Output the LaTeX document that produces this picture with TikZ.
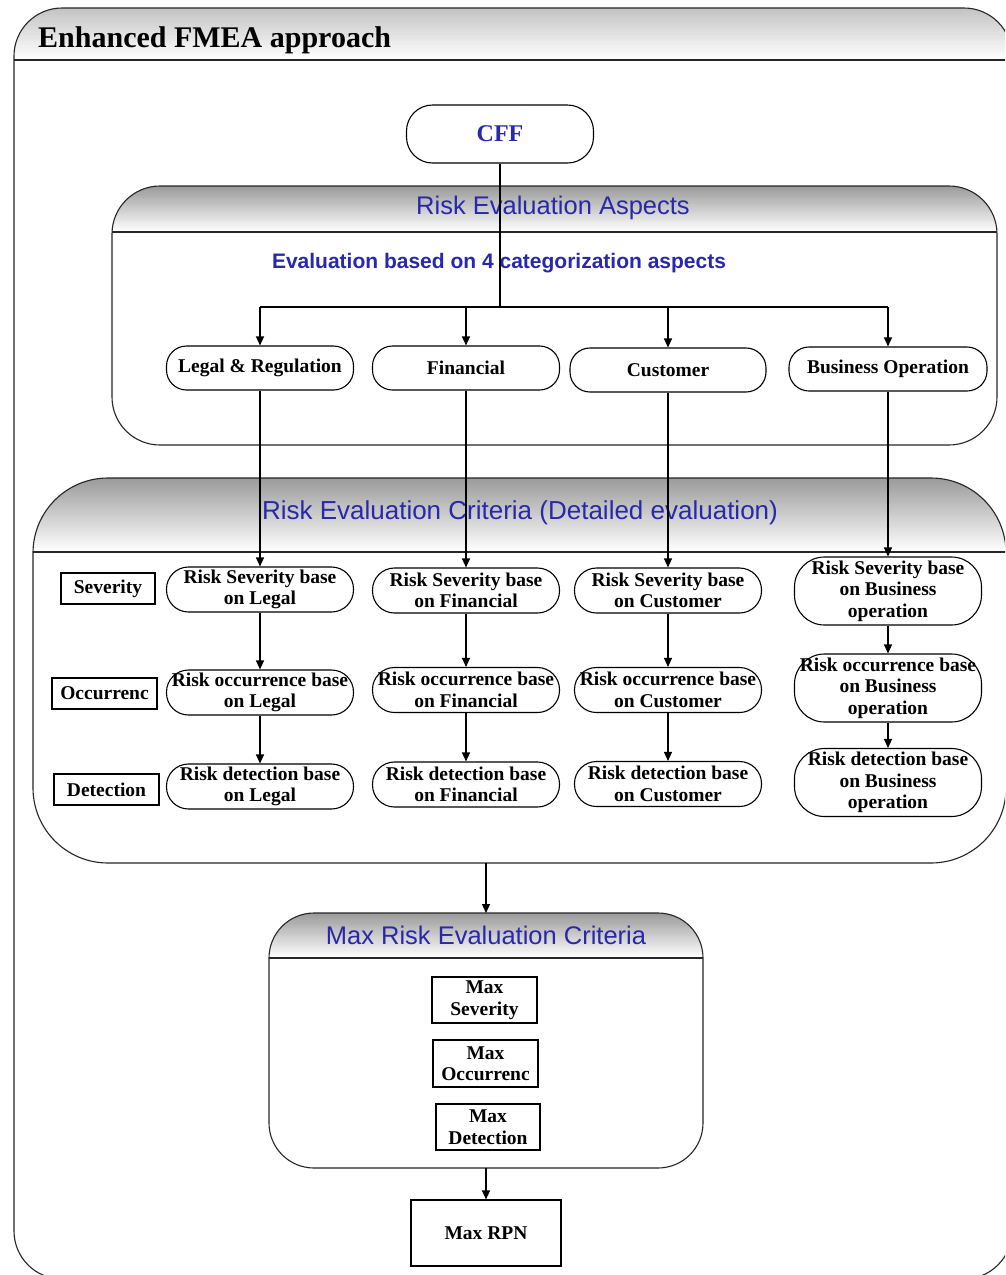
\documentclass[tikz,border=0pt]{standalone}
\usepackage{fontspec}
\setmainfont{Liberation Serif}
\setsansfont{Liberation Sans}
\usetikzlibrary{arrows.meta}
\definecolor{hblue}{RGB}{40,40,170}
\tikzset{
 arr/.style={line width=1.1pt, -{Triangle[length=9pt,width=8pt]}},
 ln/.style={line width=1.1pt},
 boxline/.style={draw=black!85, line width=1.1pt},
 container/.style={inner sep=0pt, outer sep=0pt},
 proc/.style={draw, line width=1.1pt, align=center, font=\bfseries\fontsize{19.5}{21.5}\selectfont, inner sep=0pt},
 lab/.style={draw, line width=1.1pt, align=center, font=\bfseries\fontsize{19.5}{21.5}\selectfont, inner sep=0pt},
 head/.style={font=\sffamily\fontsize{25.5}{28}\selectfont, text=hblue},
 crit/.style={proc, rounded corners=22pt, minimum width=187pt, minimum height=45pt},
 critt/.style={proc, rounded corners=30pt, minimum width=187pt, minimum height=68pt},
 aspn/.style={proc, rounded corners=20pt, minimum height=44pt},
}
% #1 node, #2 header height, #3 corner radius, #4 top grey percentage
\newcommand\myHeaderBox[4]{%
 \begin{scope}
 \clip[rounded corners=#3pt] (#1.south west) rectangle (#1.north east);
 \foreach \i in {0,...,#2} {
   \pgfmathtruncatemacro\g{#4*(1-\i/#2)}
   \pgfmathsetmacro\yb{\i+1.4}
   \fill[black!\g] ([yshift=-\i pt]#1.north west) rectangle ([yshift=-\yb pt]#1.north east);
 }
 \end{scope}
 \draw[boxline, rounded corners=#3pt] (#1.south west) rectangle (#1.north east);
 \draw[boxline] ([yshift=-#2 pt]#1.north west) -- ([yshift=-#2 pt]#1.north east);
}
\begin{document}
\begin{tikzpicture}[x=1pt,y=-1pt]
\useasboundingbox (0,0) rectangle (1005,1275);
\clip (0,0) rectangle (1005,1275);
\fill[white] (0,0) rectangle (1005,1275);

% outer frame
\node[container, minimum width=998pt, minimum height=1271pt] (frame) at (513,643.5) {};
\myHeaderBox{frame}{52}{48}{24}
\node[anchor=base west, font=\bfseries\fontsize{30}{34}\selectfont, inner sep=0pt] (title) at (38,47) {Enhanced FMEA approach};

% CFF
\node[proc, rounded corners=26pt, minimum width=187pt, minimum height=58pt, text=hblue, font=\bfseries\fontsize{24}{26}\selectfont] (cff) at (500,134) {CFF};

% aspects container
\node[container, minimum width=885pt, minimum height=259pt] (aspbox) at (554.5,315.5) {};
\myHeaderBox{aspbox}{46}{48}{40}
\node[head] (asphead) at (553,208) {Risk Evaluation Aspects};
\node[font=\sffamily\bfseries\fontsize{21}{24}\selectfont, text=hblue] (evaltext) at (499,263) {Evaluation based on 4 categorization aspects};

\node[aspn, minimum width=187pt] (legal) at (260,368) {Legal \& Regulation};
\node[aspn, minimum width=187pt] (fin) at (466,368) {Financial};
\node[aspn, minimum width=196pt] (cust) at (668,370) {Customer};
\node[aspn, minimum width=198pt] (biz) at (888,369) {Business Operation};

% criteria container
\node[container, minimum width=973pt, minimum height=385pt] (critbox) at (519.5,670.5) {};
\myHeaderBox{critbox}{74}{75}{40}
\node[head, font=\sffamily\fontsize{26}{28}\selectfont] (crithead) at (520,513) {Risk Evaluation Criteria (Detailed evaluation)};

\node[lab, minimum width=94pt, minimum height=31pt] (lsev) at (108,588.5) {Severity};
\node[lab, minimum width=105pt, minimum height=31pt] (locc) at (104.5,693.5) {Occurrenc};
\node[lab, minimum width=105pt, minimum height=31pt] (ldet) at (106.5,789.5) {Detection};

\node[crit] (sL) at (260,589.5) {Risk Severity base\\on Legal};
\node[crit] (oL) at (260,692.5) {Risk occurrence base\\on Legal};
\node[crit] (dL) at (260,786.5) {Risk detection base\\on Legal};
\node[crit] (sF) at (466,590.5) {Risk Severity base\\on Financial};
\node[crit] (oF) at (466,690) {Risk occurrence base\\on Financial};
\node[crit] (dF) at (466,784.5) {Risk detection base\\on Financial};
\node[crit] (sC) at (668,590.5) {Risk Severity base\\on Customer};
\node[crit] (oC) at (668,690) {Risk occurrence base\\on Customer};
\node[crit] (dC) at (668,784) {Risk detection base\\on Customer};
\node[critt] (sB) at (888,591) {Risk Severity base\\on Business\\operation};
\node[critt] (oB) at (888,688) {Risk occurrence base\\on Business\\operation};
\node[critt] (dB) at (888,782.5) {Risk detection base\\on Business\\operation};

% max container
\node[container, minimum width=434pt, minimum height=255pt] (maxbox) at (486,1040.5) {};
\myHeaderBox{maxbox}{45}{45}{40}
\node[head] (maxhead) at (486,935) {Max Risk Evaluation Criteria};
\node[lab, minimum width=105pt, minimum height=46pt] (msev) at (484.5,1000) {Max\\Severity};
\node[lab, minimum width=105pt, minimum height=47pt] (mocc) at (485.5,1063.5) {Max\\Occurrenc};
\node[lab, minimum width=104pt, minimum height=46pt] (mdet) at (488,1127) {Max\\Detection};
\node[lab, minimum width=150pt, minimum height=66pt] (rpn) at (486,1233) {Max RPN};

% connectors
\coordinate (busy) at (500,307);
\draw[ln] (cff.south) -- (busy);
\draw[ln] (legal.north |- busy) -- (biz.north |- busy);
\foreach \n in {legal,fin,cust,biz} \draw[arr] (\n.north |- busy) -- (\n.north);
\draw[arr] (legal.south) -- (legal.south |- sL.north);
\draw[arr] (fin.south) -- (fin.south |- sF.north);
\draw[arr] (cust.south) -- (cust.south |- sC.north);
\draw[arr] (biz.south) -- (biz.south |- sB.north);
\foreach \c in {L,F,C,B} {
  \draw[arr] (s\c.south) -- (o\c.north);
  \draw[arr] (o\c.south) -- (d\c.north);
}
\coordinate (critout) at (maxbox.north |- critbox.south);
\draw[arr] (critout) -- (maxbox.north);
\draw[arr] (maxbox.south) -- (rpn.north);
\end{tikzpicture}
\end{document}
